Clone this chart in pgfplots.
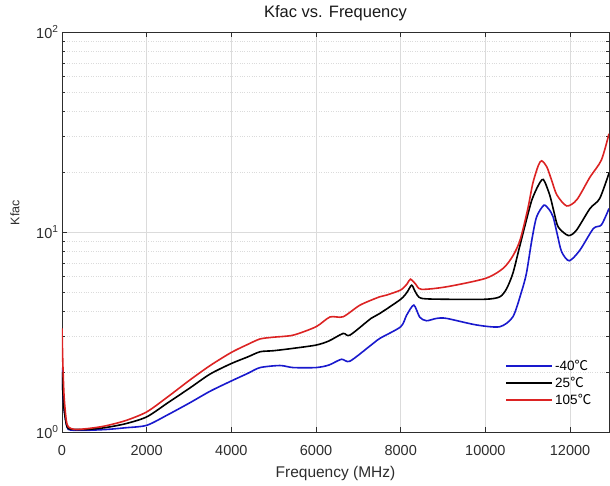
\documentclass[border=0pt]{standalone}
\usepackage{pgfplots}
\pgfplotsset{compat=1.18}
\usepackage{fontspec}
\setmainfont{Liberation Sans}
\newfontfamily\cjk{Noto Sans CJK SC}
\definecolor{mblue}{RGB}{25,25,205}
\definecolor{mred}{RGB}{220,35,35}
\definecolor{axcol}{RGB}{45,45,45}
\begin{document}
\begin{tikzpicture}
\begin{axis}[name=ax, scale only axis, width=547pt, height=400pt,
  xmin=0, xmax=12920, ymode=log, log basis y=10, ymin=1, ymax=100,
  xtick={0,2000,...,12000}, ytick={1,10,100},
  minor ytick={2,3,4,5,6,7,8,9,20,30,40,50,60,70,80,90},
  yticklabels={10\textsuperscript{0},10\textsuperscript{1},10\textsuperscript{2}},
  /pgf/number format/assume math mode=true,
  /pgf/number format/1000 sep={},
  scaled x ticks=false,
  tick pos=both, tick align=inside,
  major tick length=5pt, minor tick length=3pt,
  axis line style={axcol, line width=0.6pt},
  every tick/.style={axcol, line width=0.5pt},
  xmajorgrids, ymajorgrids, yminorgrids,
  major grid style={gray!28, line width=0.5pt},
  minor grid style={gray!28, dotted, line width=0.5pt},
  ticklabel style={text=axcol, font=\fontsize{14.5}{16}\selectfont},
  xticklabel style={anchor=base, yshift=-23pt},
  title={Kfac vs. Frequency},
  title style={at={(0.5,1)}, anchor=base, yshift=8pt, text=black!90, font=\fontsize{16.5}{18}\selectfont},
  xlabel={Frequency (MHz)},
  xlabel style={at={(0.5,0)}, anchor=base, yshift=-45pt, text=axcol, font=\fontsize{15.5}{17}\selectfont},
  ylabel={Kfac},
  ylabel style={at={(axis description cs:-0.086,0.548)}, anchor=center, text=axcol, font=\fontsize{12.5}{14}\selectfont},
  legend style={at={(axis description cs:0.805,0.19)}, anchor=north west, draw=none, fill=none,
    font=\fontsize{13.5}{15}\selectfont, row sep=1pt},
  legend cell align=left,
  legend image code/.code={\draw[#1, line width=1.7pt] (0pt,0pt) -- (46pt,0pt);},
]
\addplot[mblue, line width=1.6pt, smooth, tension=0.45] coordinates {
(0,2.1) (20,1.6) (50,1.3) (100,1.1) (150,1.03) (300,1.02) (600,1.02) (1060,1.03)
(1500,1.05) (2000,1.08) (2500,1.22) (3020,1.40) (3500,1.6) (4000,1.80) (4400,1.97)
(4680,2.10) (5150,2.15) (5460,2.10) (6000,2.10) (6300,2.16) (6600,2.31) (6800,2.26)
(7300,2.72) (7510,2.94) (8000,3.36) (8140,3.84) (8310,4.31) (8450,3.75) (8610,3.60)
(8850,3.70) (9080,3.70) (9790,3.43) (10340,3.36) (10650,3.77) (10850,5.0) (10970,6.22)
(11100,9.2) (11210,11.9) (11380,13.6) (11500,13.0) (11600,11.9) (11700,9.7) (11800,7.97) (11980,7.18) (12230,8.1)
(12550,10.4) (12740,10.85) (12920,13.1)
};
\addlegendentry{-40{\cjk ℃}}
\addplot[black, line width=1.6pt, smooth, tension=0.45] coordinates {
(0,2.0) (20,1.6) (50,1.3) (100,1.1) (150,1.04) (300,1.03) (600,1.03) (1000,1.05)
(1500,1.1) (2000,1.19) (2500,1.4) (3020,1.66) (3500,1.95) (4000,2.2) (4400,2.38)
(4680,2.52) (5000,2.55) (5460,2.62) (6000,2.72) (6300,2.85) (6640,3.11) (6800,3.05)
(7300,3.70) (7510,3.92) (8000,4.61) (8150,5.0) (8260,5.42) (8350,5.0) (8490,4.66)
(9080,4.61) (10000,4.61) (10340,4.74) (10500,5.2) (10650,6.22) (10800,8.3) (10970,11.5) (11100,14.5) (11250,17.1)
(11370,18.3) (11520,15.3) (11620,12.6) (11720,10.6) (11960,9.6) (12150,10.2) (12470,13.1)
(12700,14.7) (12920,19.7)
};
\addlegendentry{25{\cjk ℃}}
\addplot[mred, line width=1.6pt, smooth, tension=0.45] coordinates {
(0,3.3) (20,2.2) (50,1.5) (100,1.15) (150,1.06) (300,1.03) (600,1.04) (1000,1.07)
(1500,1.14) (2000,1.26) (2500,1.5) (3020,1.82) (3500,2.15) (4000,2.5) (4400,2.75)
(4680,2.92) (5000,2.98) (5460,3.05) (6000,3.36) (6330,3.76) (6640,3.77) (7040,4.31)
(7500,4.74) (7670,4.84) (8000,5.13) (8150,5.5) (8230,5.81) (8350,5.5) (8490,5.17)
(9080,5.32) (10000,5.86) (10420,6.58) (10650,7.6) (10820,9.12) (11000,13)
(11120,17.5) (11250,21.5) (11330,22.7) (11450,21.2) (11570,18.0) (11690,15.3) (11920,13.5)
(12160,14.5) (12470,18.8) (12740,22.9) (12920,31)
};
\addlegendentry{105{\cjk ℃}}
\end{axis}
\pgfresetboundingbox
\path ([xshift=-62pt,yshift=-53pt]ax.south west) rectangle ([xshift=1pt,yshift=32pt]ax.north east);
\end{tikzpicture}
\end{document}
